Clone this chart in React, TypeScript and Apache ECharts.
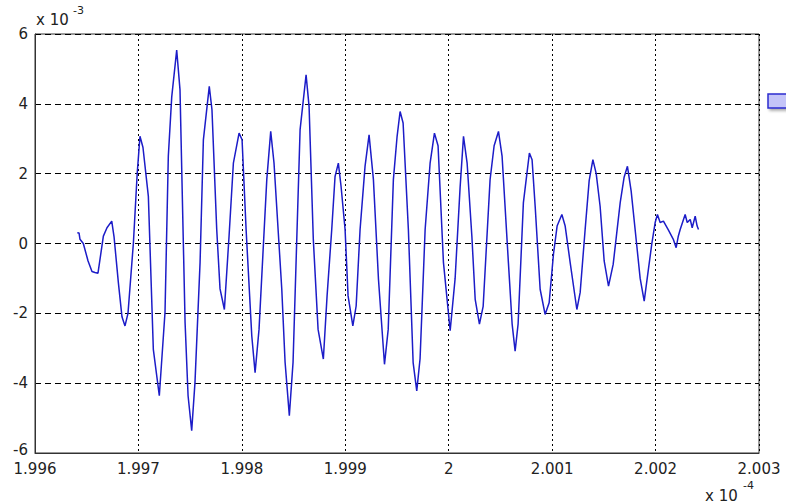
import React, { useEffect, useRef } from "react";
import * as echarts from "echarts";

// time in units of 1e-4, amplitude in units of 1e-3
const timeValues: number[] = [
  1.996409, 1.996426, 1.996435, 1.996467, 1.996513, 1.996551, 1.99658, 1.996609, 1.996661, 1.996696,
  1.996742, 1.996764, 1.996806, 1.996841, 1.99687, 1.996899, 1.996951, 1.996988, 1.997015, 1.997044,
  1.997096, 1.997144, 1.997202, 1.997257, 1.997289, 1.997322, 1.99737, 1.997402, 1.997451, 1.99748,
  1.997515, 1.997547, 1.997596, 1.997628, 1.997685, 1.997711, 1.997757, 1.997789, 1.997831, 1.997876,
  1.997918, 1.997973, 1.998002, 1.998041, 1.998096, 1.998128, 1.998166, 1.998241, 1.998279, 1.998311,
  1.998386, 1.998418, 1.998459, 1.998495, 1.998563, 1.998621, 1.99865, 1.998691, 1.998737, 1.998788,
  1.998824, 1.998869, 1.998901, 1.998933, 1.998959, 1.998998, 1.999027, 1.999073, 1.999105, 1.999143,
  1.999191, 1.99923, 1.999272, 1.999321, 1.999379, 1.999415, 1.999465, 1.999501, 1.99953, 1.999559,
  1.99961, 1.999656, 1.999691, 1.999723, 1.999772, 1.99982, 1.999862, 1.999897, 1.999949, 2.000014,
  2.000062, 2.00011, 2.000143, 2.000178, 2.000224, 2.000256, 2.000297, 2.000333, 2.0004, 2.000439,
  2.000481, 2.000516, 2.000577, 2.000613, 2.000642, 2.000671, 2.000722, 2.00078, 2.000806, 2.000836,
  2.000884, 2.000932, 2.000971, 2.001013, 2.001048, 2.001094, 2.001126, 2.001174, 2.001239, 2.001271,
  2.001319, 2.001358, 2.001394, 2.001426, 2.001464, 2.001503, 2.001545, 2.00159, 2.001658, 2.001696,
  2.001728, 2.001764, 2.001819, 2.001851, 2.00189, 2.001928, 2.001964, 2.001996, 2.002018, 2.002044,
  2.002076, 2.002122, 2.002173, 2.002199, 2.002219, 2.002238, 2.002286, 2.002306, 2.002335, 2.002354,
  2.002383, 2.002402, 2.002415,
];

const amplitudeValues: number[] = [
  0.31, 0.3, 0.12, 0.0, -0.5, -0.8, -0.83, -0.85, 0.21, 0.45,
  0.64, 0.2, -1.12, -2.1, -2.36, -2.0, 0.0, 2.0, 3.07, 2.75,
  1.35, -3.03, -4.36, -1.97, 2.5, 4.2, 5.54, 4.4, -2.26, -4.36,
  -5.36, -3.97, -0.54, 2.97, 4.5, 3.83, 0.4, -1.3, -1.89, 0.2,
  2.3, 3.16, 2.97, 0.4, -2.65, -3.7, -2.46, 1.83, 3.21, 2.3,
  -1.31, -3.4, -4.93, -3.4, 3.26, 4.83, 3.92, 0.11, -2.46, -3.31,
  -1.5, 0.4, 1.92, 2.3, 1.64, 0.4, -1.5, -2.36, -1.79, 0.4,
  2.21, 3.11, 1.83, -1.03, -3.46, -2.46, 1.83, 3.07, 3.78, 3.45,
  0.4, -3.41, -4.22, -3.3, 0.4, 2.3, 3.16, 2.8, -0.54, -2.5,
  -1.0, 1.6, 3.07, 2.3, 0.2, -1.6, -2.31, -1.8, 1.83, 2.8,
  3.21, 2.5, -0.54, -2.3, -3.08, -2.3, 1.17, 2.59, 2.4, 1.06,
  -1.31, -2.03, -1.7, -0.3, 0.5, 0.83, 0.5, -0.54, -1.89, -1.4,
  0.4, 1.8, 2.4, 2.0, 1.06, -0.5, -1.22, -0.6, 1.17, 1.9,
  2.21, 1.5, -0.08, -1.0, -1.65, -0.8, 0.0, 0.6, 0.83, 0.6,
  0.64, 0.4, 0.11, -0.12, 0.2, 0.4, 0.83, 0.6, 0.69, 0.45,
  0.78, 0.5, 0.4,
];

const xMin = 1.996;
const xMax = 2.003;
const xStep = 0.001;
const yMin = -6;
const yMax = 6;
const yStep = 2;

const FONT = "DejaVu Sans";

export default function App() {
  const ref = useRef<HTMLDivElement>(null);

  useEffect(() => {
    document.body.style.margin = "0";
    if (!ref.current) return;
    const chart = echarts.init(ref.current, undefined, { renderer: "svg" });
    const data = timeValues.map((t, i) => [t, amplitudeValues[i]]);
    chart.setOption({
      animation: false,
      backgroundColor: "#ffffff",
      grid: {
        left: 35,
        right: 27,
        top: 34,
        bottom: 51,
        show: true,
        borderColor: "#333333",
        borderWidth: 1,
        backgroundColor: "transparent",
      },
      xAxis: {
        type: "value",
        min: xMin,
        max: xMax,
        interval: xStep,
        axisLine: { show: true, onZero: false, lineStyle: { color: "#333333", width: 1 } },
        axisTick: { show: false },
        axisLabel: {
          color: "#222222",
          fontFamily: FONT,
          fontSize: 15,
          lineHeight: 13,
          margin: 9,
          formatter: (v: number) => parseFloat(v.toFixed(3)).toString(),
        },
        splitLine: {
          show: true,
          lineStyle: { color: "#000000", type: [2, 3], width: 1 },
        },
      },
      yAxis: {
        type: "value",
        min: yMin,
        max: yMax,
        interval: yStep,
        axisLine: { show: true, onZero: false, lineStyle: { color: "#333333", width: 1 } },
        axisTick: { show: false },
        axisLabel: {
          color: "#222222",
          fontFamily: FONT,
          fontSize: 15,
          lineHeight: 10,
          margin: 7,
          showMinLabel: false,
          formatter: (v: number) => String(Math.round(v)),
        },
        splitLine: {
          show: true,
          lineStyle: { color: "#000000", type: [6, 4], width: 1 },
        },
      },
      series: [
        {
          type: "line",
          data,
          showSymbol: false,
          symbol: "none",
          smooth: false,
          lineStyle: { color: "#1c1cc8", width: 1.5 },
          z: 3,
        },
      ],
      graphic: [
        {
          type: "text",
          right: 758,
          top: 442,
          style: { text: String(yMin), font: `15px ${FONT}`, fill: "#222222" },
        },
        {
          type: "text",
          left: 36,
          top: 12,
          style: { text: "x 10", font: `15px ${FONT}`, fill: "#222222" },
        },
        {
          type: "text",
          left: 73,
          top: 5,
          style: { text: "-3", font: `11px ${FONT}`, fill: "#222222" },
        },
        {
          type: "text",
          left: 705,
          top: 488,
          style: { text: "x 10", font: `15px ${FONT}`, fill: "#222222" },
        },
        {
          type: "text",
          left: 743,
          top: 480,
          style: { text: "-4", font: `11px ${FONT}`, fill: "#222222" },
        },
        {
          type: "rect",
          shape: { x: 768, y: 94, width: 30, height: 14 },
          style: {
            fill: "#c4c4f8",
            stroke: "#2b2bd0",
            lineWidth: 1.5,
            shadowBlur: 3,
            shadowColor: "rgba(0,0,0,0.35)",
            shadowOffsetX: 2,
            shadowOffsetY: 2,
          },
        },
      ],
    });
    return () => chart.dispose();
  }, []);

  return <div ref={ref} style={{ width: 786, height: 504 }} />;
}
